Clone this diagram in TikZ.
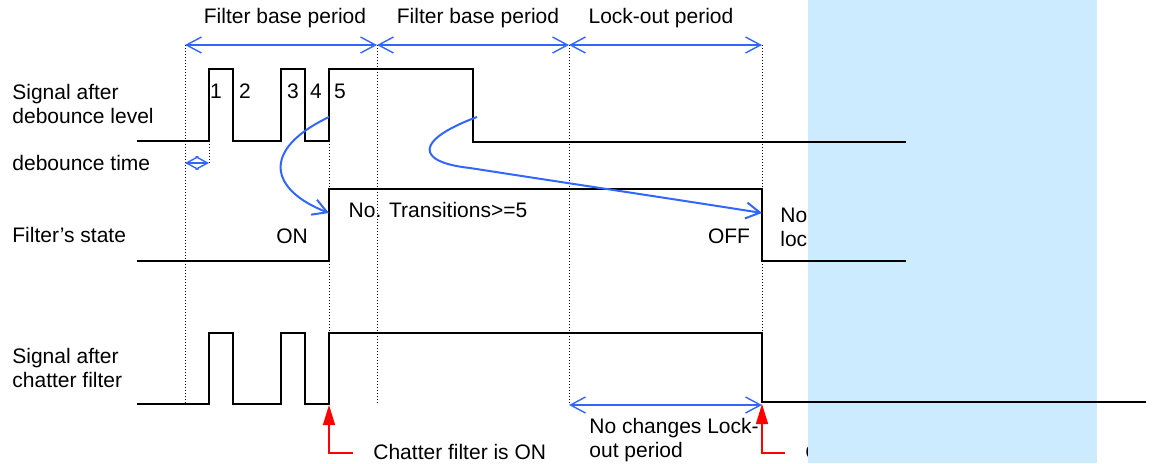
\documentclass[tikz,border=0pt]{standalone}
\usepackage{fontspec}
\setmainfont{Liberation Sans}
\usetikzlibrary{arrows.meta}

\definecolor{bluearr}{RGB}{51,102,255}
\definecolor{lockbg}{RGB}{204,235,255}

\tikzset{
  lbl/.style={font=\fontsize{10.5}{12}\selectfont, inner sep=0pt, align=left},
  sig/.style={line width=0.8pt, line join=miter},
  guide/.style={line width=0.5pt, dash pattern=on 0.5pt off 1pt},
  span/.style={bluearr, line width=0.7pt, {Straight Barb[length=7.5pt,width=8pt]}-{Straight Barb[length=7.5pt,width=8pt]}},
  cause/.style={bluearr, line width=1pt, -{Straight Barb[length=7pt,width=8pt]}},
  event/.style={red, line width=0.8pt, -{Triangle[length=10pt,width=6pt]}}
}

\begin{document}
\begin{tikzpicture}[x=0.5pt,y=-0.5pt]
    \useasboundingbox (0,0) rectangle (1152,463);
    \node[lbl, anchor=west] (nolock) at (780,227) {No\\loc};
    \node[lbl, anchor=west] (chatoff) at (805,452) {C};
    \fill[lockbg] (808,0) rectangle (1097,463);

    \coordinate (t0) at (185,45);
    \coordinate (t1) at (377,45);
    \coordinate (t2) at (569,45);
    \coordinate (t3) at (762,45);

    \node[lbl] (fbp1) at (285,18) {Filter base period};
    \node[lbl] (fbp2) at (478,18) {Filter base period};
    \node[lbl] (lop) at (661,18) {Lock-out period};
    \draw[span] (t0) -- (t1);
    \draw[span] (t1) -- (t2);
    \draw[span] (t2) -- (t3);

    \draw[guide] (t0) -- (185,404);
    \draw[guide] (t1) -- (377,404);
    \draw[guide] (t2) -- (569,405);
    \draw[guide] (t3) -- (762,404);
    \draw[guide] (329,141) -- (329,404);
    \draw[guide] (209,141) -- (209,163);

    \node[lbl, anchor=west] (sdeb) at (12,104) {Signal after\\debounce level};
    \node[lbl, anchor=west] (dtime) at (12,163) {debounce time};
    \node[lbl, anchor=west] (fstate) at (12,235) {Filter’s state};
    \node[lbl, anchor=west] (schat) at (12,368) {Signal after\\chatter filter};

    \coordinate (d0) at (185,163);
    \coordinate (d1) at (209,163);
    \draw[bluearr, line width=0.7pt, {Straight Barb[length=6pt,width=6.5pt]}-{Straight Barb[length=6pt,width=6.5pt]}] (d0) -- (d1);

    \draw[sig] (137,141) -- (209,141) -- (209,69) -- (233,69) -- (233,141) -- (281,141) -- (281,69)
      -- (305,69) -- (305,141) -- (329,141) -- (329,69) -- (473,69) -- (473,142) -- (906,142);
    \node[lbl] (e1) at (216,91) {1};
    \node[lbl] (e2) at (245,91) {2};
    \node[lbl] (e3) at (293,91) {3};
    \node[lbl] (e4) at (316,91) {4};
    \node[lbl] (e5) at (340,91) {5};

    \draw[sig] (137,261) -- (329,261) -- (329,189) -- (762,189) -- (762,261) -- (906,261);
    \node[lbl] (on) at (292,236) {ON};
    \node[lbl] (ntr) at (438,210) {No. Transitions>=5};
    \node[lbl] (off) at (729,236) {OFF};

    \coordinate (rise5) at (329,117);
    \coordinate (fall) at (477,117);
    \coordinate (son) at (329,213);
    \coordinate (soff) at (762,213);
    \draw[cause] (rise5) .. controls (260,150) and (270,190) .. (son);
    \draw[cause] (fall) .. controls (415,140) and (415,162) .. (470,168)
      .. controls (560,182) and (680,200) .. (soff);

    \draw[sig] (137,404) -- (209,404) -- (209,333) -- (233,333) -- (233,404) -- (281,404) -- (281,333)
      -- (305,333) -- (305,404) -- (329,404) -- (329,333) -- (762,333) -- (762,402) -- (1146,402);

    \coordinate (lk0) at (569,405);
    \coordinate (lk1) at (762,405);
    \draw[span] (lk0) -- (lk1);
    \node[lbl, anchor=west] (nochg) at (589,440) {No changes Lock-\\out period};

    \coordinate (cfon) at (329,405);
    \coordinate (cfoff) at (762,404);
    \draw[event] (353,453) -- (329,453) -- (cfon);
    \draw[event] (785,453) -- (762,453) -- (cfoff);
    \node[lbl, anchor=west] (chon) at (373,452) {Chatter filter is ON};
\end{tikzpicture}
\end{document}
